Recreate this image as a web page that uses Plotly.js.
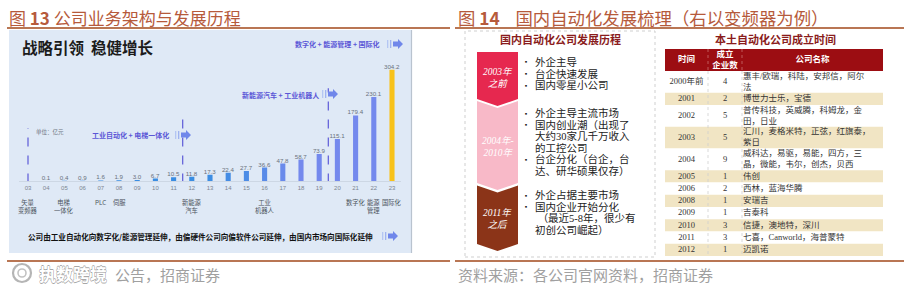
<!DOCTYPE html>
<html><head><meta charset="utf-8">
<script src="https://cdn.plot.ly/plotly-3.0.1.min.js"></script>
<style>html,body{margin:0;padding:0;background:#fff;}#chart{width:906px;height:292px;}</style>
</head><body><div id="chart"></div>
<script>
// ---------- data ----------
const tickYears = [2003,2004,2005,2006,2007,2008,2009,2010,2011,2012,2013,2014,2015,2016,2017,2018,2019,2020,2021,2022,2023];
const tickLabels = ["03","04","05","06","07","08","09","10","11","12","13","14","15","16","17","18","19","20","21","22","23"];
const barYears = [2004,2005,2006,2007,2008,2009,2010,2011,2012,2013,2014,2015,2016,2017,2018,2019,2020,2021,2022,2023];
const revenue = [0.1,0.4,0.9,1.6,1.9,3.0,6.7,10.5,11.8,17.3,22.4,27.7,36.6,47.8,58.7,73.9,115.1,179.4,230.1,304.2];
const milestoneYears = [2003,2005,2007,2008,2012,2016,2021,2022,2023];
const milestoneLabels = ["矢量<br>变频器","电梯<br>一体化","PLC","伺服","新能源<br>汽车","工业<br>机器人","数字化","能源<br>管理","国际化"];
const stageBreaks = [2003,2011.5,2019.5];
const stageLabels = ["工业自动化 + 电梯一体化","新能源汽车 + 工业机器人","数字化 + 能源管理 + 国际化"];

const phaseLabels = ["2003年<br>之前","2004年-<br>2010年","2011年<br>之后"];
const phaseBullets = [
  [["外企主导"],["台企快速发展"],["国内零星小公司"]],
  [["外企主导主流市场"],["国内创业潮（出现了","大约30家几千万收入","的工控公司"],["台企分化（台企，台","达、研华硕果仅存）"]],
  [["外企占据主要市场"],["国内企业开始分化"," （最近5-8年，很少有","初创公司崛起）"]]
];

const tableHeader = ["时间","成立<br>企业数","公司名称"];
const tableTime = ["2000年前","2001","2002","2003","2004","2005","2006","2008","2009","2010","2011","2012"];
const tableCount = [4,2,5,5,9,1,2,1,1,3,3,1];
const tableNames = ["惠丰/欧瑞，科陆，安邦信，阿尔<br>法","博世力士乐，宝德","普传科技，英威腾，科姆龙，金<br>田，日业","汇川，麦格米特，正弦，红旗泰，<br>紫日","威科达，易驱，易能，四方，三<br>晶，微能，韦尔，创杰，贝西","伟创","西林，蓝海华腾","安瑞吉","吉泰科","信捷，澳地特，深川","七喜，Canworld，海普蒙特","迈凯诺"];
const tableColWidths = [43,34,141];

// ---------- helpers ----------
const W = 906, H = 292;
const px = x => x / W, py = y => 1 - y / H;
const CJK = "Noto Sans CJK SC";
const SERIF = "Liberation Serif, Noto Sans CJK SC";
const titleColor = "#b65a3b", ruleColor = "#b97654";

function mix(a, b, t) {
  const pa = [1,3,5].map(i => parseInt(a.substr(i,2),16));
  const pb = [1,3,5].map(i => parseInt(b.substr(i,2),16));
  return 'rgb(' + pa.map((v,i) => Math.round(v + (pb[i]-v)*t)).join(',') + ')';
}
const barColors = revenue.map((v,i) => i === revenue.length-1 ? '#f8c21a'
  : mix('#3a8de2', '#7e88ef', Math.max(0, Math.min(1, (v-15)/40))*0.85));

const shapes = [];
const annotations = [];
function ann(o){ annotations.push(Object.assign({showarrow:false, xref:'paper', yref:'paper'}, o)); }
function rectPx(x0,y0,x1,y1,fill,line,extra){ shapes.push(Object.assign({type:'rect',xref:'paper',yref:'paper',x0:px(x0),x1:px(x1),y0:py(y1),y1:py(y0),fillcolor:fill,line:line||{width:0},layer:'below'},extra||{})); }
function pathPx(pts, fill){ shapes.push({type:'path',xref:'paper',yref:'paper',path:'M'+pts.map(p=>px(p[0])+','+py(p[1])).join(' L')+' Z',fillcolor:fill,line:{width:0},layer:'above'}); }
function arrowDeco(x, y){
  rectPx(x, y-4, x+1.3, y+4, '#b4c6f3', null, {layer:'above'});
  rectPx(x+3, y-4, x+4.3, y+4, '#9fb3f0', null, {layer:'above'});
  pathPx([[x+6,y-2.5],[x+11,y-2.5],[x+11,y-5],[x+16,y],[x+11,y+5],[x+11,y+2.5],[x+6,y+2.5]], '#7087ea');
}

// ---------- titles / rules ----------
ann({text:'图 <b>13</b> 公司业务架构与发展历程', x:px(7), y:py(17), xanchor:'left', yanchor:'middle', font:{size:17,color:titleColor,family:CJK}});
ann({text:'图 <b>14</b>&nbsp;&nbsp;&nbsp;&nbsp;国内自动化发展梳理（右以变频器为例）', x:px(456), y:py(17), xanchor:'left', yanchor:'middle', font:{size:17.4,color:titleColor,family:CJK}});
shapes.push({type:'line',xref:'paper',yref:'paper',x0:px(7),x1:px(450),y0:py(28),y1:py(28),line:{color:ruleColor,width:2}});
shapes.push({type:'line',xref:'paper',yref:'paper',x0:px(455),x1:px(904),y0:py(28),y1:py(28),line:{color:ruleColor,width:2}});
shapes.push({type:'line',xref:'paper',yref:'paper',x0:px(7),x1:px(450),y0:py(261),y1:py(261),line:{color:ruleColor,width:2}});
shapes.push({type:'line',xref:'paper',yref:'paper',x0:px(455),x1:px(904),y0:py(261),y1:py(261),line:{color:ruleColor,width:2}});
ann({text:'公告，招商证券', x:px(113), y:py(274), xanchor:'left', yanchor:'middle', font:{size:15,color:'#a0a0a0',family:CJK}});
shapes.push({type:'circle',xref:'paper',yref:'paper',x0:px(13),x1:px(31),y0:py(282),y1:py(264),line:{color:'#b5b5b5',width:2.2},fillcolor:'rgba(255,255,255,0)'});
shapes.push({type:'circle',xref:'paper',yref:'paper',x0:px(18),x1:px(26),y0:py(277),y1:py(269),line:{color:'#c2c2c2',width:1.6},fillcolor:'rgba(255,255,255,0)'});
ann({text:'执数跨境', x:px(37), y:py(273), xanchor:'left', yanchor:'middle', font:{size:17,color:'#ffffff',family:CJK,weight:700,shadow:'0.6px 0 0.4px #a8a8a8, -0.6px 0 0.4px #a8a8a8, 0 0.6px 0.4px #a8a8a8, 0 -0.6px 0.4px #a8a8a8'}});
ann({text:'资料来源：各公司官网资料，招商证券', x:px(456), y:py(274), xanchor:'left', yanchor:'middle', font:{size:15,color:'#a0a0a0',family:CJK}});

// ---------- left panel ----------
rectPx(9, 30, 411, 253, '#dfe9f6');
shapes.push({type:'line',xref:'paper',yref:'paper',x0:px(411.5),x1:px(411.5),y0:py(30),y1:py(253),line:{color:'#b9c3cf',width:1.2},layer:'below'});
ann({text:'<b>战略引领  稳健增长</b>', x:px(20), y:py(47), xanchor:'left', yanchor:'middle', font:{size:15.5,color:'#1b1b1b',family:CJK}});
ann({text:'单位：亿元', x:px(34), y:py(131.5), xanchor:'left', yanchor:'middle', font:{size:5.5,color:'#6d7480',family:CJK}});

const stageTops = [145, 187, 254];
stageBreaks.forEach((b,i) => shapes.push({type:'line',xref:'x',yref:'y',x0:b,x1:b,y0:-4,y1:stageTops[i],line:{color:'#5d5ad8',width:1.2,dash:'dash'},layer:'above'}));
const stagePos = [[130,135],[280,95],[337,44]];
stageLabels.forEach((t,i) => ann({text:'<b>'+t+'</b>', x:px(stagePos[i][0]), y:py(stagePos[i][1]), xanchor:'center', yanchor:'middle', font:{size:7,color:'#5b57d6',family:CJK}}));
arrowDeco(175,135); arrowDeco(322,94); arrowDeco(387,44);

milestoneYears.forEach((yr,i) => ann({text:milestoneLabels[i], xref:'x', x:yr, y:py(195.5), xanchor:'center', yanchor:'top', font:{size:6.3,color:'#4d5560',family:CJK}}));
ann({text:'<b>公司由工业自动化向数字化/能源管理延伸，由偏硬件公司向偏软件公司延伸，由国内市场向国际化延伸</b>', x:px(26), y:py(236), xanchor:'left', yanchor:'middle', font:{size:7.6,color:'#111',family:CJK}});
arrowDeco(382,236);

// ---------- right-left: development phases ----------
shapes.push({type:'rect',xref:'paper',yref:'paper',x0:px(465),x1:px(655),y0:py(257),y1:py(31),line:{color:'#cfcfcf',width:1,dash:'dot'},fillcolor:'rgba(0,0,0,0)',layer:'below'});
ann({text:'<b>国内自动化公司发展历程</b>', x:px(560), y:py(38.5), xanchor:'center', yanchor:'middle', font:{size:11,color:'#8a1c1c',family:CJK}});
ann({text:'<b>本土自动化公司成立时间</b>', x:px(775), y:py(38.5), xanchor:'center', yanchor:'middle', font:{size:11,color:'#8a1c1c',family:CJK}});

const chev = [
  {top:52, notch:52, side:99, tip:106, color:'#e6284f'},
  {top:101, notch:108, side:183, tip:190, color:'#f8b9c8'},
  {top:185.5, notch:192.5, side:244, tip:251, color:'#8b3418'}
];
const cx0 = 477, cx1 = 518, cxm = 497.5;
chev.forEach(c => pathPx([[cx0,c.top],[cxm,c.notch],[cx1,c.top],[cx1,c.side],[cxm,c.tip],[cx0,c.side]], c.color));
const phaseTextY = [78, 146, 218];
phaseLabels.forEach((t,i) => ann({text:'<i>'+t+'</i>', x:px(cxm), y:py(phaseTextY[i]), xanchor:'center', yanchor:'middle', font:{size:9.5,color:'#ffffff',family:SERIF}}));

const firstLineY = [62, 113, 195];
const lineGap = 11.6;
phaseBullets.forEach((items, gi) => {
  let y = firstLineY[gi];
  items.forEach(lines => {
    ann({text:'▪', x:px(525.5), y:py(y), xanchor:'center', yanchor:'middle', font:{size:6,color:'#222',family:CJK}});
    lines.forEach(l => { ann({text:l, x:px(533), y:py(y), xanchor:'left', yanchor:'middle', font:{size:10.5,color:'#222',family:SERIF}}); y += lineGap; });
  });
});

// ---------- table geometry from data (axis units) ----------
const headerH = 1.8;
const rowH = tableNames.map(n => n.split('<br>').length > 1 ? 1.78 : 1);
const rowCenters = [];
let acc = headerH;
rowH.forEach(h => { rowCenters.push(acc + h/2); acc += h; });
const tableTotal = acc;
const colEdges = [0]; tableColWidths.forEach(w => colEdges.push(colEdges[colEdges.length-1] + w));
const colCenters = tableColWidths.map((w,i) => colEdges[i] + w/2);
const rowFill = tableTime.map((t,i) => i % 2 === 0 ? '#ffffff' : '#f1e5c4');

[colEdges[1], colEdges[2]].forEach(xv => {
  shapes.push({type:'line',xref:'x2',yref:'y2',x0:xv,x1:xv,y0:0,y1:headerH,line:{color:'#c97070',width:0.8,dash:'dot'},layer:'above'});
  shapes.push({type:'line',xref:'x2',yref:'y2',x0:xv,x1:xv,y0:headerH,y1:tableTotal,line:{color:'#cfcfcf',width:0.8,dash:'dot'},layer:'above'});
});

// ---------- traces ----------
const bars = {
  type:'bar', x:barYears, y:revenue, width:0.28,
  marker:{color:barColors, line:{width:0}},
  texttemplate:'%{y:.1f}', textposition:'outside', constraintext:'none', cliponaxis:false,
  textfont:{size:6.2,color:'#69717c',family:'Liberation Sans, Noto Sans'},
  hoverinfo:'skip'
};
const headerBar = {type:'bar', orientation:'h', xaxis:'x2', yaxis:'y2', y:[headerH/2], x:[colEdges[3]], base:0, width:[headerH],
  marker:{color:'#9c0d12', line:{width:0}}, hoverinfo:'skip'};
const rowBars = {type:'bar', orientation:'h', xaxis:'x2', yaxis:'y2', y:rowCenters, x:rowCenters.map(() => colEdges[3]), base:0, width:rowH,
  marker:{color:rowFill, line:{width:0}}, hoverinfo:'skip'};
const headerText = {type:'scatter', mode:'text', xaxis:'x2', yaxis:'y2', x:colCenters, y:colCenters.map(() => headerH/2),
  text:tableHeader.map(h => '<b>'+h+'</b>'), textposition:'middle center', textfont:{size:8.5,color:'#ffffff',family:SERIF}, hoverinfo:'skip', cliponaxis:false};
const timeText = {type:'scatter', mode:'text', xaxis:'x2', yaxis:'y2', x:rowCenters.map(() => colCenters[0]), y:rowCenters,
  text:tableTime, textposition:'middle center', textfont:{size:8.5,color:'#333',family:SERIF}, hoverinfo:'skip', cliponaxis:false};
const countText = {type:'scatter', mode:'text', xaxis:'x2', yaxis:'y2', x:rowCenters.map(() => colCenters[1]), y:rowCenters,
  text:tableCount.map(String), textposition:'middle center', textfont:{size:8.5,color:'#333',family:SERIF}, hoverinfo:'skip', cliponaxis:false};
const nameText = {type:'scatter', mode:'text', xaxis:'x2', yaxis:'y2', x:rowCenters.map(() => colEdges[2] + 1), y:rowCenters,
  text:tableNames, textposition:'middle right', textfont:{size:8.5,color:'#333',family:SERIF}, hoverinfo:'skip', cliponaxis:false};

const layout = {
  width:W, height:H, margin:{l:0,r:0,t:0,b:0},
  paper_bgcolor:'#ffffff', plot_bgcolor:'rgba(0,0,0,0)', showlegend:false, barmode:'overlay',
  xaxis:{domain:[px(18.9), px(401.1)], range:[2002.5,2023.5], showgrid:false, zeroline:false,
         showline:true, linecolor:'#cdd7e4', linewidth:1, ticks:'', tickmode:'array', tickvals:tickYears, ticktext:tickLabels,
         tickfont:{size:6,color:'#7d8590',family:'Liberation Sans, Noto Sans'}, ticklabelstandoff:1, fixedrange:true},
  yaxis:{domain:[py(181), py(60.4)], range:[0,330], visible:false, fixedrange:true},
  xaxis2:{domain:[px(665), px(883)], range:[0, colEdges[3]], visible:false, anchor:'y2', fixedrange:true},
  yaxis2:{domain:[py(256), py(49)], range:[tableTotal, 0], visible:false, anchor:'x2', fixedrange:true},
  shapes:shapes, annotations:annotations
};
Plotly.newPlot('chart', [bars, headerBar, rowBars, headerText, timeText, countText, nameText], layout, {staticPlot:true, displayModeBar:false});
</script>
</body></html>
